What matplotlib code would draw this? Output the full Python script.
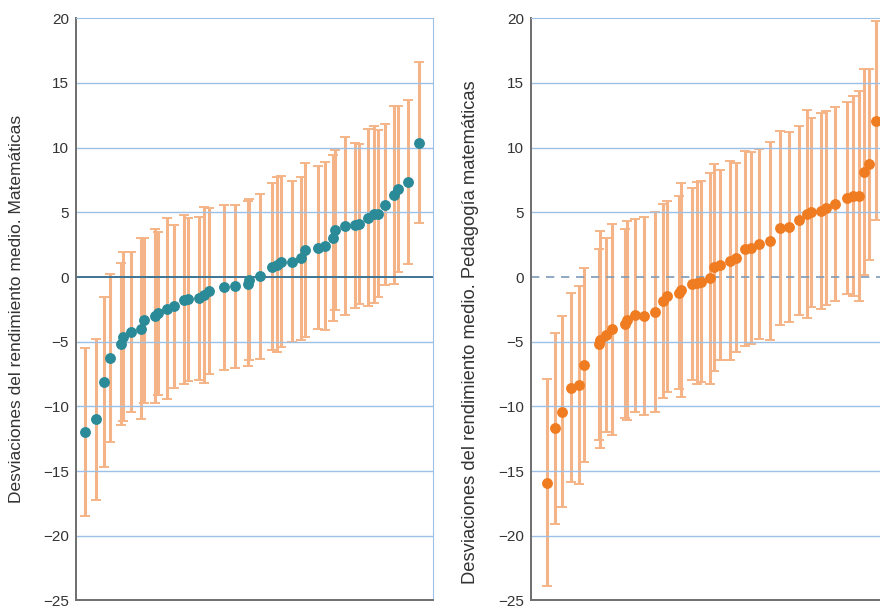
import matplotlib.pyplot as plt
import numpy as np

plt.rcParams["font.family"] = ["Liberation Sans", "DejaVu Sans"]

# ==========================================
# Datos: posición horizontal, desviación media y semiamplitud del intervalo
# ==========================================
# Panel izquierdo: Matemáticas
pos_mat = [9, 20, 27.5, 33.5, 44.5, 47, 54.5, 64.5, 67.5, 79, 81.5, 91, 97.5,
           108, 111.5, 122.5, 127.5, 133, 148, 159, 171.5, 173, 184, 195.5,
           201, 205, 216, 224.5, 228.5, 242, 248.5, 257, 258.5, 268.5, 278.5,
           283, 291.5, 298, 302, 309, 318, 321.5, 331.5, 343]
dev_mat = [-12.0, -11.0, -8.1, -6.25, -5.15, -4.6, -4.25, -4.0, -3.35, -3.0,
           -2.8, -2.45, -2.25, -1.75, -1.7, -1.65, -1.4, -1.1, -0.8, -0.7,
           -0.5, -0.2, 0.05, 0.8, 0.95, 1.2, 1.2, 1.45, 2.1, 2.25, 2.4, 3.0,
           3.65, 3.95, 4.0, 4.1, 4.6, 4.85, 4.9, 5.6, 6.35, 6.8, 7.35, 10.4]
err_mat = [6.5, 6.25, 6.55, 6.5, 6.25, 6.5, 6.2, 7.0, 6.4, 6.75, 6.3, 7.0, 6.3,
           6.55, 6.3, 6.3, 6.8, 6.4, 6.35, 6.3, 6.4, 6.25, 6.35, 6.45, 6.75,
           6.6, 6.2, 6.3, 6.7, 6.3, 6.5, 6.4, 6.2, 6.85, 6.4, 6.2, 6.85, 6.85,
           6.45, 6.2, 6.85, 6.4, 6.35, 6.25]

# Panel derecho: Pedagogía matemáticas
pos_ped = [15.5, 24, 30.5, 39.5, 48, 52.5, 68, 69, 74.5, 80.5, 93.5, 95.5,
           104, 113, 123.5, 131.5, 135.5, 147.5, 149.5, 161, 166, 170, 179,
           182.5, 189, 198.5, 204.5, 214, 220, 228, 238.5, 248.5, 258, 267.5,
           275.5, 279.5, 290, 294.5, 303.5, 315.5, 321.5, 327.5, 333, 337.5,
           345]
dev_ped = [-15.9, -11.7, -10.4, -8.55, -8.35, -6.8, -5.2, -4.85, -4.45, -4.05,
           -3.6, -3.35, -2.95, -3.0, -2.7, -1.85, -1.5, -1.2, -1.0, -0.55,
           -0.45, -0.35, -0.1, 0.75, 0.95, 1.25, 1.5, 2.2, 2.25, 2.55, 2.8,
           3.8, 3.85, 4.4, 4.9, 5.0, 5.1, 5.35, 5.65, 6.1, 6.25, 6.25, 8.1,
           8.7, 12.1]
err_ped = [8.0, 7.35, 7.4, 7.3, 7.65, 7.5, 7.4, 8.4, 7.5, 8.15, 7.3, 7.7, 7.45,
           7.65, 7.7, 7.5, 7.4, 7.45, 8.3, 7.4, 7.8, 7.8, 8.15, 8.0, 7.35, 7.7,
           7.3, 7.55, 7.45, 7.35, 7.65, 7.5, 7.35, 7.3, 8.05, 7.3, 7.6, 7.5,
           7.5, 7.4, 7.75, 8.1, 7.95, 7.35, 7.7]

y_ticks = [-25, -20, -15, -10, -5, 0, 5, 10, 15, 20]

paneles = [
    (pos_mat, dev_mat, err_mat, "#2b8a97", "solid",
     "Desviaciones del rendimiento medio. Matemáticas", 0.5, 12.5),
    (pos_ped, dev_ped, err_ped, "#f07c22", (0, (5, 4)),
     "Desviaciones del rendimiento medio. Pedagogía matemáticas", 0.46, 13.2),
]

# ==========================================
# Dibujo
# ==========================================
fig = plt.figure(figsize=(8.8, 6.06), dpi=100)
ax_left = fig.add_axes([76 / 880, 0.0091, 357 / 880, 0.9607])
ax_right = fig.add_axes([531 / 880, 0.0091, 357 / 880, 0.9607])

grid_col = "#9dc1e6"
bar_col = "#f5b487"

for ax, (pos, dev, err, pt_col, zero_ls, label, ly, lsize) in zip([ax_left, ax_right], paneles):
    ax.errorbar(pos, dev, yerr=err, fmt="none", ecolor=bar_col, elinewidth=2.2,
                capsize=3.8, capthick=1.4, zorder=1)
    for t in y_ticks:
        if t not in (0, -25, 20):
            ax.axhline(t, color=grid_col, linewidth=1.0, zorder=2)
    if zero_ls == "solid":
        ax.axhline(0, color="#3f7394", linewidth=1.4, zorder=2)
    else:
        ax.axhline(0, color="#7d9bb8", linewidth=1.2, linestyle=zero_ls, zorder=2)
    ax.plot(pos, dev, "o", color=pt_col, markersize=6.8, zorder=3)

    ax.set_xlim(0, 357)
    ax.set_ylim(-25, 20)
    ax.set_yticks(y_ticks)
    ax.set_yticklabels([str(t).replace("-", "\u2212") for t in y_ticks])
    ax.set_xticks([])
    ax.tick_params(axis="y", length=0, pad=5, labelsize=11, labelcolor="#333333")

    ax.spines["left"].set_color("#6e6e6e")
    ax.spines["left"].set_linewidth(1.4)
    ax.spines["bottom"].set_color("#6e6e6e")
    ax.spines["bottom"].set_linewidth(1.4)
    ax.spines["top"].set_color(grid_col)
    ax.spines["right"].set_color(grid_col)

    ax.set_ylabel(label, fontsize=lsize, color="#333333")
    ax.yaxis.set_label_coords(-0.146, ly)

fig.savefig("out.png", dpi=100)
plt.close(fig)
